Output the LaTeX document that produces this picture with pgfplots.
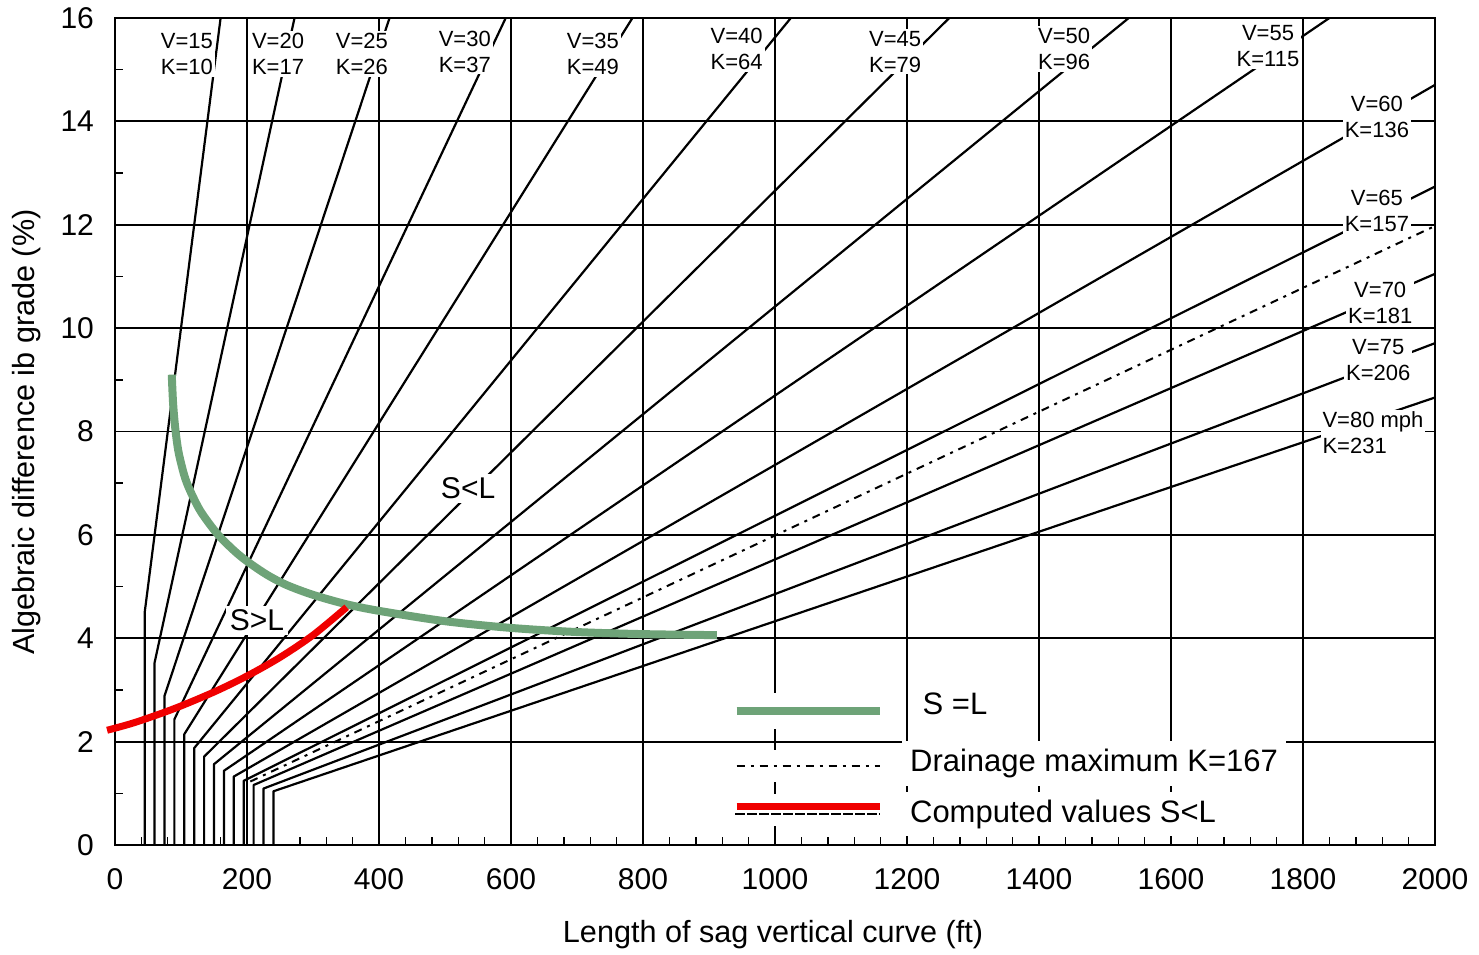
\documentclass[border=0pt]{standalone}
\usepackage{fontspec}
\setmainfont{Liberation Sans}
\usepackage{pgfplots}
\pgfplotsset{compat=1.18}
\definecolor{sgreen}{RGB}{110,163,120}
\definecolor{sred}{RGB}{240,0,0}
\begin{document}
\begin{tikzpicture}
\useasboundingbox (-57.5pt,-54.5pt) rectangle (682pt,422.5pt);
\begin{axis}[
  at={(0,0)}, anchor=south west,
  width=660pt, height=413.5pt, scale only axis,
  xmin=0, xmax=2000, ymin=0, ymax=16,
  xtick={0,200,...,2000}, ytick={0,2,...,16},
  minor x tick num=4, minor y tick num=1,
  grid=major, major grid style={black, line width=0.9pt},
  axis line style={line width=1.1pt},
  tick align=inside, major tick length=0pt, minor tick length=4pt,
  minor tick style={line width=0.7pt, black},
  tick pos=left,
  clip=false,
  /pgf/number format/assume math mode=true,
  /pgf/number format/1000 sep={},
  ticklabel style={font=\fontsize{15}{18}\selectfont},
  xticklabel style={yshift=-8pt},
  yticklabel style={xshift=-7pt},
  xlabel={Length of sag vertical curve (ft)},
  ylabel={Algebraic difference ib grade (\%)},
  label style={font=\fontsize{15.3}{18}\selectfont},
  xlabel style={at={(axis description cs:0.4985,-0.1088)}, anchor=center},
  ylabel style={at={(axis description cs:-0.0667,0.4994)}, anchor=center},
  every axis plot/.append style={line join=round},
]
% design lines L = K A, with minimum length 3V
\addplot[black, line width=1.1pt] coordinates {(45,0) (45,4.5) (160,16)};
\addplot[black, line width=1.1pt] coordinates {(60,0) (60,3.529) (272,16)};
\addplot[black, line width=1.1pt] coordinates {(75,0) (75,2.885) (416,16)};
\addplot[black, line width=1.1pt] coordinates {(90,0) (90,2.432) (592,16)};
\addplot[black, line width=1.1pt] coordinates {(105,0) (105,2.143) (784,16)};
\addplot[black, line width=1.1pt] coordinates {(120,0) (120,1.875) (1024,16)};
\addplot[black, line width=1.1pt] coordinates {(135,0) (135,1.709) (1264,16)};
\addplot[black, line width=1.1pt] coordinates {(150,0) (150,1.563) (1536,16)};
\addplot[black, line width=1.1pt] coordinates {(165,0) (165,1.435) (1840,16)};
\addplot[black, line width=1.1pt] coordinates {(180,0) (180,1.324) (2000,14.706)};
\addplot[black, line width=1.1pt] coordinates {(195,0) (195,1.242) (2000,12.739)};
\addplot[black, line width=1.1pt] coordinates {(210,0) (210,1.160) (2000,11.050)};
\addplot[black, line width=1.1pt] coordinates {(225,0) (225,1.092) (2000,9.709)};
\addplot[black, line width=1.1pt] coordinates {(240,0) (240,1.039) (2000,8.658)};
% drainage maximum K=167
\addplot[black, line width=1pt, dash pattern=on 4pt off 3pt on 1.5pt off 3pt] coordinates {(205,1.228) (2000,11.976)};

% line labels
\begin{scope}[every node/.style={fill=white, inner sep=1pt, align=center, font=\fontsize{11}{13}\selectfont}]
\node at (axis cs:109,15.3) {V=15\\K=10};
\node at (axis cs:247,15.3) {V=20\\K=17};
\node at (axis cs:374,15.3) {V=25\\K=26};
\node at (axis cs:530,15.35) {V=30\\K=37};
\node at (axis cs:724,15.3) {V=35\\K=49};
\node at (axis cs:942,15.4) {V=40\\K=64};
\node at (axis cs:1182,15.35) {V=45\\K=79};
\node at (axis cs:1438,15.4) {V=50\\K=96};
\node at (axis cs:1747,15.45) {V=55\\K=115};
\node at (axis cs:1912,14.08) {V=60\\K=136};
\node at (axis cs:1912,12.26) {V=65\\K=157};
\node at (axis cs:1917,10.48) {V=70\\K=181};
\node at (axis cs:1914,9.38) {V=75\\K=206};
\node[anchor=west, align=left] at (axis cs:1826,7.97) {V=80 mph\\K=231};
\end{scope}
\node[fill=white, inner sep=2pt, font=\fontsize{15}{18}\selectfont] at (axis cs:535,6.9) {S<L};
\node[fill=white, inner sep=2pt, font=\fontsize{15}{18}\selectfont] at (axis cs:215,4.35) {S>L};

% S = L curve
\addplot[sgreen, line width=4pt, smooth, line cap=butt] coordinates {
(86,9.1) (88,8.55) (91,8.1) (96,7.62) (105,7.15) (114,6.85) (130,6.45) (155,6.02)
(180,5.7) (200,5.49) (230,5.23) (260,5.03) (300,4.84) (350,4.66) (400,4.53)
(500,4.33) (600,4.2) (700,4.12) (800,4.08) (912,4.06)};
% computed values S<L
\addplot[sred, line width=3.5pt, smooth, line cap=butt] coordinates {
(-12,2.22) (30,2.37) (90,2.64) (150,2.96) (200,3.27) (250,3.63) (300,4.06) (351,4.6)};

% legend
\addplot[white, line width=18pt, line cap=butt] coordinates {(935,2.59) (1170,2.59)};
\addplot[white, line width=16pt, line cap=butt] coordinates {(935,1.53) (1170,1.53)};
\addplot[white, line width=16pt, line cap=butt] coordinates {(935,0.68) (1170,0.68)};
\addplot[sgreen, line width=4pt, line cap=butt] coordinates {(942,2.59) (1159,2.59)};
\addplot[black, line width=1pt, dash pattern=on 4pt off 3pt on 1.5pt off 3pt] coordinates {(942,1.53) (1159,1.53)};
\addplot[black, line width=1pt, dash pattern=on 5pt off 1pt] coordinates {(940,0.6) (1159,0.6)};
\addplot[sred, line width=3.5pt, line cap=butt] coordinates {(942,0.74) (1159,0.74)};
\begin{scope}[every node/.style={fill=white, anchor=west, inner sep=4pt, font=\fontsize{15.5}{18}\selectfont}]
\node at (axis cs:1211,2.73) {S =L};
\node at (axis cs:1192,1.58) {Drainage maximum K=167};
\node at (axis cs:1192,0.60) {Computed values S<L};
\end{scope}
\end{axis}
\end{tikzpicture}
\end{document}
